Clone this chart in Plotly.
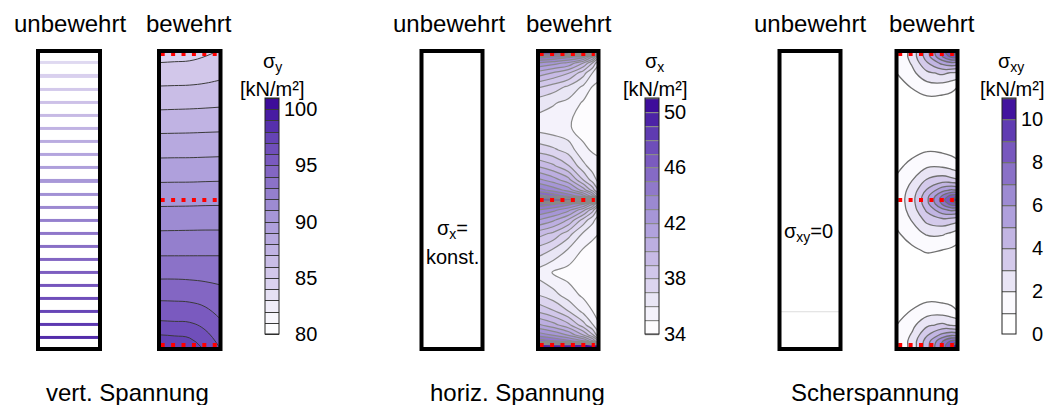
import plotly.graph_objects as go

W, H = 1050, 405
FONT = "Liberation Sans, Arial, sans-serif"

# ---------------- data ----------------
# vertical stress, reinforced wall (grid)
sy_x = [0.0, 0.25, 0.5, 0.75, 1.0]
sy_y = [0.0, 0.1, 0.2, 0.3, 0.4, 0.5, 0.6, 0.7, 0.8, 0.9, 1.0]
sy_z = [
    [98.0, 97.9, 97.7, 96.9, 96.0],
    [95.9, 95.85, 95.8, 95.5, 95.0],
    [94.45, 94.45, 94.4, 94.3, 94.15],
    [93.15, 93.15, 93.15, 93.15, 93.15],
    [91.96, 91.97, 91.98, 91.99, 91.99],
    [90.73, 90.74, 90.75, 90.77, 90.78],
    [89.49, 89.5, 89.5, 89.52, 89.54],
    [88.29, 88.3, 88.31, 88.33, 88.35],
    [87.03, 87.05, 87.07, 87.1, 87.13],
    [85.78, 85.8, 85.82, 85.9, 86.03],
    [84.5, 84.55, 84.6, 84.8, 85.05],
]

# vertical stress, unreinforced wall (stripes)
stripe_y = [0.961, 0.916, 0.871, 0.827, 0.783, 0.741, 0.696, 0.651, 0.608, 0.564, 0.520,
            0.476, 0.433, 0.388, 0.343, 0.301, 0.256, 0.212, 0.170, 0.125, 0.081, 0.038]
stripe_val = [84.0, 84.7, 85.4, 86.1, 86.8, 87.5, 88.2, 88.9, 89.6, 90.3, 91.0,
              91.7, 92.4, 93.1, 93.8, 94.5, 95.2, 95.9, 96.6, 97.3, 98.0, 98.7]

# common grid for horizontal and shear stress
grid_x = [0.0, 0.25, 0.5, 0.75, 0.9, 1.0]
grid_y = [0.0, 0.0134, 0.0268, 0.0470, 0.0805, 0.1275, 0.1812, 0.2567, 0.3322, 0.3859,
          0.4329, 0.4664, 0.4866, 0.5, 0.5134, 0.5336, 0.5671, 0.6141, 0.6678, 0.7466,
          0.8255, 0.8792, 0.9262, 0.9597, 0.9799, 0.9933, 1.0]

sx_z = [
    [49.5, 49.5, 49.5, 50.0, 50.5, 51.0],
    [49.5, 49.5, 49.5, 50.0, 50.5, 51.0],
    [45.7, 45.1, 44.3, 43.2, 41.3, 38.7],
    [43.6, 42.9, 41.9, 40.0, 38.2, 36.4],
    [41.2, 40.4, 39.3, 37.4, 36.1, 35.05],
    [38.8, 38.1, 37.0, 35.7, 35.0, 34.8],
    [37.0, 36.4, 35.5, 34.8, 34.6, 34.5],
    [35.6, 34.95, 34.6, 34.5, 34.5, 34.5],
    [37.6, 36.9, 35.9, 34.9, 34.7, 34.6],
    [39.4, 38.7, 37.4, 35.8, 35.2, 35.0],
    [42.0, 41.2, 39.9, 37.6, 36.3, 35.5],
    [44.0, 43.3, 42.3, 40.3, 38.4, 36.6],
    [45.8, 45.2, 44.4, 43.2, 41.3, 38.8],
    [50.0, 50.0, 50.0, 50.0, 50.5, 51.0],
    [46.5, 45.8, 44.7, 43.5, 41.5, 39.0],
    [44.4, 43.6, 42.6, 40.5, 38.6, 36.8],
    [42.3, 41.5, 40.4, 38.0, 36.6, 35.7],
    [39.9, 39.2, 38.1, 36.3, 35.5, 35.15],
    [37.6, 37.2, 36.6, 35.2, 34.9, 34.9],
    [35.5, 35.3, 35.1, 34.6, 34.5, 34.5],
    [36.4, 36.1, 35.7, 34.85, 34.6, 34.6],
    [38.1, 37.5, 36.8, 35.8, 34.95, 34.8],
    [40.6, 39.9, 39.1, 37.4, 36.0, 35.3],
    [42.9, 42.4, 41.8, 40.0, 38.0, 36.2],
    [45.5, 45.0, 44.3, 43.4, 41.2, 38.5],
    [49.0, 49.0, 49.0, 49.5, 50.0, 51.0],
    [49.0, 49.0, 49.0, 49.5, 50.0, 51.0],
]

sxy_z = [
    [1.15, 2.3, 4.6, 7.3, 9.2, 11.2],
    [1.15, 2.3, 4.6, 7.3, 9.2, 11.2],
    [1.15, 2.3, 4.5, 6.9, 8.2, 8.4],
    [1.1, 2.1, 3.9, 5.3, 5.8, 5.6],
    [1.0, 1.7, 2.8, 3.2, 2.9, 2.8],
    [0.55, 1.05, 1.5, 1.5, 1.3, 1.0],
    [0.2, 0.45, 0.6, 0.5, 0.4, 0.3],
    [0.0, 0.0, 0.0, 0.0, 0.0, 0.0],
    [0.45, 0.8, 1.15, 1.0, 0.85, 0.7],
    [0.85, 1.45, 2.1, 2.1, 1.8, 1.5],
    [1.2, 2.05, 3.3, 3.7, 3.5, 3.3],
    [1.3, 2.4, 4.2, 5.7, 6.2, 6.0],
    [1.35, 2.5, 4.7, 7.1, 8.4, 8.6],
    [1.35, 2.55, 4.8, 7.5, 9.4, 11.3],
    [1.35, 2.5, 4.7, 7.1, 8.4, 8.6],
    [1.3, 2.35, 4.1, 5.6, 6.1, 5.9],
    [1.15, 1.95, 3.1, 3.5, 3.3, 3.1],
    [0.75, 1.3, 1.85, 1.85, 1.6, 1.35],
    [0.35, 0.65, 0.9, 0.8, 0.65, 0.5],
    [0.0, 0.0, 0.0, 0.0, 0.0, 0.0],
    [0.2, 0.45, 0.6, 0.5, 0.4, 0.3],
    [0.55, 1.05, 1.5, 1.5, 1.3, 1.0],
    [1.0, 1.7, 2.8, 3.2, 2.9, 2.8],
    [1.1, 2.1, 3.9, 5.3, 5.8, 5.6],
    [1.15, 2.3, 4.5, 6.9, 8.2, 8.4],
    [1.15, 2.3, 4.6, 7.3, 9.2, 11.2],
    [1.15, 2.3, 4.6, 7.3, 9.2, 11.2],
]

reinf_y = [0.0134, 0.5, 0.99]
reinf_x = [0.028, 0.94]
artifact_y = [0.125]

sy_range = [80, 101]
sx_range = [34, 51]
sxy_range = [0, 11]
sy_ticks = [80, 85, 90, 95, 100]
sx_ticks = [34, 38, 42, 46, 50]
sxy_ticks = [0, 2, 4, 6, 8, 10]

headers = ["unbewehrt", "bewehrt"]
titles = ["vert.\u00a0Spannung", "horiz.\u00a0Spannung", "Scherspannung"]
cb_titles = ["\u03c3<sub>y</sub>", "\u03c3<sub>x</sub>", "\u03c3<sub>xy</sub>"]
unit = "[kN/m\u00b2]"

# ---------------- style ----------------
purples = [[0.0, '#ffffff'], [0.05, '#fbfafe'], [0.14, '#ebe8f6'], [0.21, '#dbd3ef'],
           [0.3, '#cbbfe7'], [0.45, '#afa0dc'], [0.55, '#9d8bd2'], [0.64, '#8c73c8'],
           [0.74, '#7a5abf'], [0.83, '#6644b6'], [0.9, '#5028a8'], [0.96, '#3f0f9c'],
           [1.0, '#3a0898']]

# panel boxes in pixels (border centre lines)
panels = [(38, 100), (159, 220.5), (421.5, 482.5), (538, 598.5), (779.5, 840.5), (896.5, 957.5)]
py_top, py_bot = 51, 349


def padded(ticks):
    width = max(len(str(t)) for t in ticks)
    return ["\u2007" * (width - len(str(t))) + str(t) for t in ticks]


def cbar(x_left, ticks):
    return dict(
        x=x_left / W, xanchor='left', xpad=0, xref='paper',
        y=1 - 216 / H, yanchor='middle', ypad=0, yref='paper',
        len=236, lenmode='pixels', thickness=14, thicknessmode='pixels',
        outlinewidth=1, outlinecolor='#222222', borderwidth=0,
        tickmode='array', tickvals=ticks, ticktext=padded(ticks), ticks='',
        tickfont=dict(family=FONT, size=20, color='black'),
    )


fig = go.Figure()

# unreinforced: stripes
fig.add_trace(go.Heatmap(
    x=[0.5], y=stripe_y, z=[[v] for v in stripe_val],
    colorscale=purples, zmin=sy_range[0], zmax=sy_range[1], showscale=False,
    ygap=10, xaxis='x', yaxis='y', hoverinfo='skip'))

# reinforced: sigma_y
fig.add_trace(go.Contour(
    x=sy_x, y=sy_y, z=sy_z, xaxis='x2', yaxis='y2',
    colorscale=purples, zmin=sy_range[0], zmax=sy_range[1], zauto=False, autocontour=False,
    contours=dict(start=sy_range[0], end=sy_range[1], size=1, coloring='fill', showlines=True),
    line=dict(color='#3a3a3a', width=1, smoothing=1.2),
    colorbar=cbar(265, sy_ticks), hoverinfo='skip'))

# placeholder for empty panel
fig.add_trace(go.Scatter(x=[None], y=[None], xaxis='x3', yaxis='y3', showlegend=False))

# reinforced: sigma_x
fig.add_trace(go.Contour(
    x=grid_x, y=grid_y, z=sx_z, xaxis='x4', yaxis='y4',
    colorscale=purples, zmin=sx_range[0], zmax=sx_range[1], zauto=False, autocontour=False,
    contours=dict(start=sx_range[0], end=sx_range[1], size=1, coloring='fill', showlines=True),
    line=dict(color='#8a8a8a', width=1.2, smoothing=1.2),
    colorbar=cbar(645, sx_ticks), hoverinfo='skip'))

# artifact line in unreinforced shear panel
fig.add_trace(go.Scatter(x=[0, 1], y=artifact_y * 2, xaxis='x5', yaxis='y5', mode='lines',
                         line=dict(color='#dddddd', width=1), showlegend=False, hoverinfo='skip'))

# reinforced: sigma_xy (no line at the zero level)
fig.add_trace(go.Contour(
    x=grid_x, y=grid_y, z=sxy_z, xaxis='x6', yaxis='y6',
    colorscale=purples, zmin=sxy_range[0], zmax=sxy_range[1], zauto=False, autocontour=False,
    contours=dict(start=sxy_range[0] + 1, end=sxy_range[1], size=1, coloring='fill', showlines=True),
    line=dict(color='#707070', width=1.3, smoothing=1.2),
    colorbar=cbar(1002, sxy_ticks), hoverinfo='skip'))

# reinforcement layers (red dotted)
for ax in ['2', '4', '6']:
    for ry in reinf_y:
        fig.add_trace(go.Scatter(
            x=reinf_x, y=[ry, ry], xaxis='x' + ax, yaxis='y' + ax, mode='lines',
            line=dict(color='#ff0000', width=4, dash='4px,6.4px'),
            showlegend=False, hoverinfo='skip'))

layout = dict(
    width=W, height=H, margin=dict(l=0, r=0, t=0, b=0, pad=0),
    paper_bgcolor='white', plot_bgcolor='white', showlegend=False,
    font=dict(family=FONT, color='black'),
)
shapes = []
for i, (a, b) in enumerate(panels, 1):
    sfx = '' if i == 1 else str(i)
    layout['xaxis' + sfx] = dict(domain=[a / W, b / W], range=[0, 1], visible=False,
                                 fixedrange=True, anchor='y' + sfx)
    layout['yaxis' + sfx] = dict(domain=[1 - py_bot / H, 1 - py_top / H], range=[0, 1],
                                 visible=False, fixedrange=True, anchor='x' + sfx)
    shapes.append(dict(type='rect', xref='x%s domain' % sfx, yref='y%s domain' % sfx,
                       x0=0, x1=1, y0=0, y1=1, line=dict(color='black', width=4),
                       fillcolor='rgba(0,0,0,0)', layer='above'))
layout['shapes'] = shapes

ann = []


def paper_text(text, px, py, size):
    ann.append(dict(text=text, x=px / W, y=1 - py / H, xref='paper', yref='paper',
                    xanchor='center', yanchor='middle', showarrow=False, borderpad=0,
                    font=dict(family=FONT, size=size, color='black')))


header_x = [(70, 189), (449, 569), (810, 932)]
for (ux, bx) in header_x:
    paper_text(headers[0], ux, 23, 24)
    paper_text(headers[1], bx, 23, 24)
for t, cx in zip(titles, [127.5, 517, 875]):
    paper_text(t, cx, 392, 24)
for t, cx in zip(cb_titles, [272, 654, 1011]):
    paper_text(t, cx, 62, 20)
for cx in [272, 655, 1012]:
    paper_text(unit, cx, 89, 20)

# in-panel labels
ann.append(dict(text="\u03c3<sub>x</sub>=", x=0.5, y=0.40, xref='x3', yref='y3', borderpad=0,
                showarrow=False, font=dict(family=FONT, size=20, color='black')))
ann.append(dict(text="konst.", x=0.5, y=0.309, xref='x3', yref='y3', borderpad=0,
                showarrow=False, font=dict(family=FONT, size=20, color='black')))
ann.append(dict(text="\u03c3<sub>xy</sub>=0", x=0.48, y=0.39, xref='x5', yref='y5', borderpad=0,
                showarrow=False, font=dict(family=FONT, size=20, color='black')))
layout['annotations'] = ann

fig.update_layout(**layout)
fig.write_html("out.html", include_plotlyjs=True, config={'displayModeBar': False})
